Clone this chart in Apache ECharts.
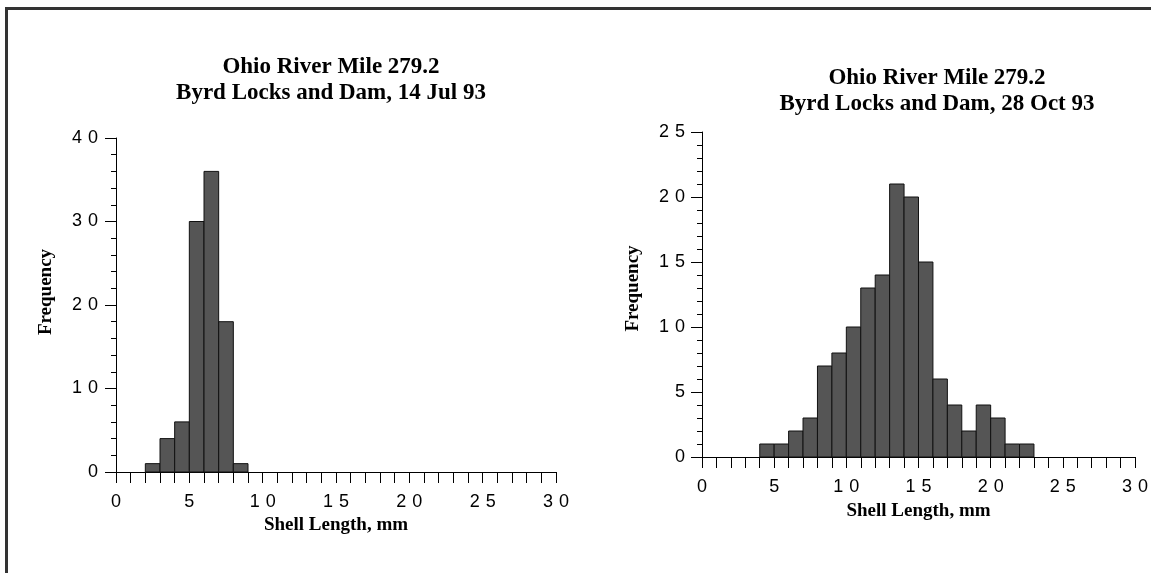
<!DOCTYPE html>
<html><head><meta charset="utf-8">
<script src="https://cdn.jsdelivr.net/npm/echarts@6/dist/echarts.min.js"></script>
<style>html,body{margin:0;padding:0;background:#fff}#c{width:1151px;height:573px}</style>
</head><body><div id="c"></div>
<script>
// ---- data ----
const julTitle = ['Ohio River Mile 279.2', 'Byrd Locks and Dam, 14 Jul 93'];
const octTitle = ['Ohio River Mile 279.2', 'Byrd Locks and Dam, 28 Oct 93'];
const xAxisName = 'Shell Length, mm';
const yAxisName = 'Frequency';
const binWidth = 1;
const julBinStarts = [2, 3, 4, 5, 6, 7, 8];
const julCounts    = [1, 4, 6, 30, 36, 18, 1];
const octBinStarts = [4, 5, 6, 7, 8, 9, 10, 11, 12, 13, 14, 15, 16, 17, 18, 19, 20, 21, 22];
const octCounts    = [1, 1, 2, 3, 7, 8, 10, 13, 14, 21, 20, 15, 6, 4, 2, 4, 3, 1, 1];
const xTickValues = [0, 5, 10, 15, 20, 25, 30];
const julYTickValues = [0, 10, 20, 30, 40];
const octYTickValues = [0, 5, 10, 15, 20, 25];

// ---- chart ----
const chart = echarts.init(document.getElementById('c'));
const spaced = v => String(v).split('').join('\u2004');
const serif = "'Liberation Serif','Times New Roman',serif";
const sans = "'Liberation Sans',Arial,sans-serif";
const barFill = '#555555';

function toBins(starts, counts) {
  return starts.map((s, i) => [s, s + binWidth, counts[i]]);
}
function renderBin(params, api) {
  const p0 = api.coord([api.value(0), 0]);
  const p1 = api.coord([api.value(1), api.value(2)]);
  return {
    type: 'rect',
    shape: { x: p0[0], y: p1[1], width: p1[0] - p0[0], height: p0[1] - p1[1] },
    style: { fill: barFill, stroke: '#111', lineWidth: 1 }
  };
}
function xAxisCfg(idx, nameGap) {
  return {
    type: 'value', gridIndex: idx, min: xTickValues[0], max: xTickValues[xTickValues.length - 1],
    interval: xTickValues[1] - xTickValues[0],
    axisLine: { lineStyle: { color: '#000', width: 1 } },
    axisTick: { show: true, length: 11, lineStyle: { color: '#000' } },
    minorTick: { show: true, splitNumber: 5, length: 11, lineStyle: { color: '#000' } },
    splitLine: { show: false }, minorSplitLine: { show: false },
    axisLabel: { color: '#000', fontFamily: sans, fontSize: 18, margin: 21, formatter: spaced },
    name: xAxisName, nameLocation: 'middle', nameGap: nameGap,
    nameTextStyle: { color: '#000', fontFamily: serif, fontWeight: 'bold', fontSize: 19 }
  };
}
function yAxisCfg(idx, ticks, margin, nameGap, shiftUp) {
  return {
    type: 'value', gridIndex: idx, min: ticks[0], max: ticks[ticks.length - 1],
    interval: ticks[1] - ticks[0],
    axisLine: { show: true, lineStyle: { color: '#000', width: 1 } },
    axisTick: { show: true, length: 11, lineStyle: { color: '#000' } },
    minorTick: { show: true, splitNumber: 5, length: 5, lineStyle: { color: '#000' } },
    splitLine: { show: false }, minorSplitLine: { show: false },
    axisLabel: { color: '#000', fontFamily: sans, fontSize: 18, margin: margin, formatter: spaced },
    name: yAxisName, nameLocation: 'middle', nameGap: nameGap, nameRotate: 90,
    nameTextStyle: { color: '#000', fontFamily: serif, fontWeight: 'bold', fontSize: 19, padding: [0, 0, 0, shiftUp * 2] }
  };
}
const titleStyle = { color: '#000', fontFamily: serif, fontWeight: 'bold', fontSize: 23, lineHeight: 26 };

chart.setOption({
  animation: false,
  backgroundColor: '#fff',
  title: [
    { text: julTitle.join('\n'), left: 326, top: 49, textAlign: 'center', textStyle: titleStyle },
    { text: octTitle.join('\n'), left: 932, top: 60, textAlign: 'center', textStyle: titleStyle }
  ],
  graphic: [
    { type: 'rect', shape: { x: 5, y: 7, width: 1146, height: 3 }, style: { fill: '#333' }, silent: true },
    { type: 'rect', shape: { x: 5, y: 7, width: 3, height: 566 }, style: { fill: '#333' }, silent: true }
  ],
  grid: [
    { left: 116, top: 138, width: 440, height: 334 },
    { left: 702, top: 132, width: 433, height: 325 }
  ],
  xAxis: [xAxisCfg(0, 43), xAxisCfg(1, 45)],
  yAxis: [yAxisCfg(0, julYTickValues, 18, 60, 13), yAxisCfg(1, octYTickValues, 17, 59, 6)],
  series: [
    { type: 'custom', xAxisIndex: 0, yAxisIndex: 0, data: toBins(julBinStarts, julCounts), renderItem: renderBin },
    { type: 'custom', xAxisIndex: 1, yAxisIndex: 1, data: toBins(octBinStarts, octCounts), renderItem: renderBin }
  ]
});
</script>
</body></html>
